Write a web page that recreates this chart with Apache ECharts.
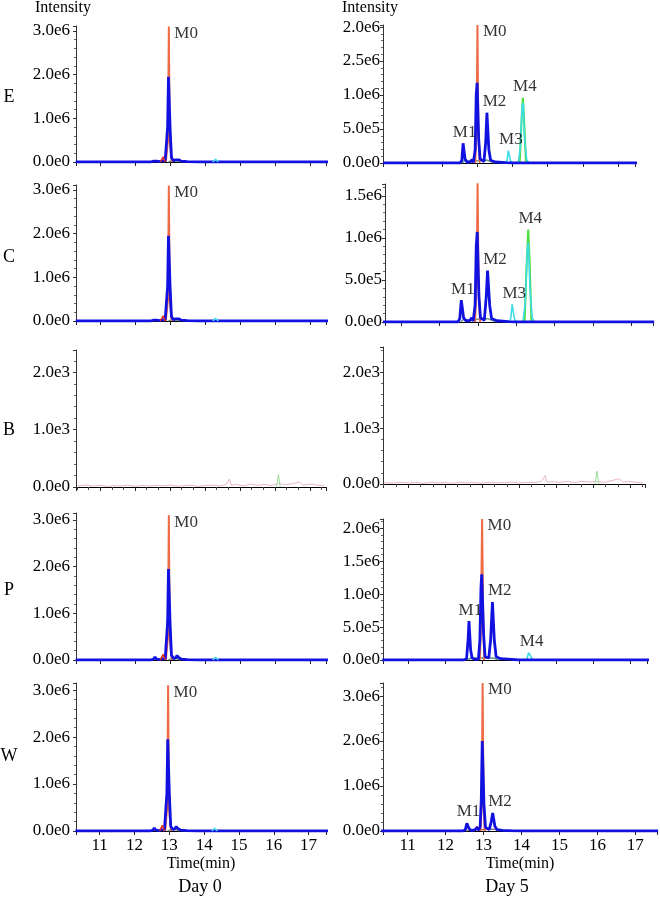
<!DOCTYPE html>
<html><head><meta charset="utf-8">
<script src="https://cdn.jsdelivr.net/npm/echarts@6/dist/echarts.min.js"></script>
<style>html,body{margin:0;padding:0;background:#fff}#c{width:660px;height:898px}</style>
</head><body><div id="c"></div>
<script>
// ---------- tick labels / text ----------
const xTickLabels = ['11','12','13','14','15','16','17'];
const yLabelsD0 = ['0.0e0','1.0e6','2.0e6','3.0e6'];
const yLabelsE5 = ['0.0e0','5.0e5','1.0e6','2.5e6','2.0e6'];
const yLabelsC5 = ['0.0e0','5.0e5','1.0e6','1.5e6'];
const yLabelsB  = ['0.0e0','1.0e3','2.0e3'];
const yLabelsP5 = ['0.0e0','5.0e5','1.0e0','1.5e6','2.0e6'];
const yLabelsW5 = ['0.0e0','1.0e6','2.0e6','3.0e6'];
const rowNames = ['E','C','B','P','W'];
const colNames = ['Day 0','Day 5'];
const yTitle = 'Intensity';
const xTitle = 'Time(min)';

// ---------- Day 0 traces (time min, intensity) ----------
const d0Orange = [[12.88,0],[12.94,0.5e6],[12.965,3.1e6],[12.99,0.5e6],[13.05,0]];
const d0Blue = [[10.3,0],[12.45,0],[12.53,0.02e6],[12.57,0.065e6],[12.61,0.02e6],[12.72,0.01e6],[12.78,0.03e6],[12.82,0.065e6],[12.86,0.02e6],[12.9,0.05e6],[12.93,0.8e6],[12.955,1.95e6],[12.975,1.95e6],[13.0,0.8e6],[13.04,0.1e6],[13.1,0.03e6],[13.16,0.05e6],[13.2,0.095e6],[13.25,0.05e6],[13.32,0.02e6],[13.5,0.01e6],[13.8,0],[17.6,0]];
const d0Red = [[12.72,0],[12.8,0.12e6],[12.86,0]];
const d0Cyan = [[14.22,0],[14.3,0.06e6],[14.38,0]];
const d0Teal = [[12.95,0],[13.05,0.03e6],[13.2,0.025e6],[13.3,0]];
const d0Labels = [['M0',12.965,3.1e6]];

// ---------- Day 5, E ----------
const e5Orange = [[12.93,0],[12.97,0.5e6],[12.995,2.03e6],[13.02,0.5e6],[13.06,0]];
const e5Blue = [[10.3,0],[12.5,0],[12.55,0.04e6],[12.585,0.29e6],[12.61,0.28e6],[12.64,0.06e6],[12.7,0.01e6],[12.8,0.02e6],[12.84,0.05e6],[12.88,0.01e6],[12.93,0.2e6],[12.96,1.0e6],[12.985,1.18e6],[13.005,1.18e6],[13.03,0.35e6],[13.07,0.06e6],[13.18,0.02e6],[13.23,0.3e6],[13.265,0.74e6],[13.29,0.72e6],[13.32,0.2e6],[13.37,0.04e6],[13.5,0.015e6],[13.8,0.005e6],[14.0,0],[17.6,0]];
const e5Cyan = [[13.78,0],[13.84,0.04e6],[13.875,0.18e6],[13.9,0.17e6],[13.94,0.03e6],[14.0,0],[14.16,0],[14.22,0.25e6],[14.27,0.85e6],[14.3,0.88e6],[14.34,0.35e6],[14.4,0.05e6],[14.46,0]];
const e5Green = [[14.2,0],[14.26,0.7e6],[14.29,0.96e6],[14.32,0.7e6],[14.38,0]];
const e5Teal = [[12.55,0],[12.62,0.035e6],[12.75,0.025e6],[12.95,0.03e6],[13.1,0.04e6],[13.25,0.045e6],[13.38,0.02e6],[13.5,0]];
const e5Labels = [['M0',12.995,2.03e6],['M1',12.6,0.29e6],['M2',13.28,0.74e6],['M3',13.89,0.18e6],['M4',14.29,0.96e6]];

// ---------- Day 5, C ----------
const c5Orange = [[12.93,0],[12.97,0.5e6],[12.995,1.65e6],[13.02,0.5e6],[13.06,0]];
const c5Blue = [[10.5,0],[12.48,0],[12.53,0.04e6],[12.57,0.26e6],[12.6,0.25e6],[12.63,0.05e6],[12.7,0.01e6],[12.8,0.02e6],[12.84,0.05e6],[12.88,0.01e6],[12.93,0.2e6],[12.96,0.9e6],[12.985,1.07e6],[13.005,1.07e6],[13.03,0.3e6],[13.07,0.05e6],[13.17,0.02e6],[13.22,0.3e6],[13.255,0.61e6],[13.28,0.6e6],[13.31,0.2e6],[13.36,0.04e6],[13.5,0.015e6],[13.8,0.005e6],[14.0,0],[17.6,0]];
const c5Cyan = [[13.8,0],[13.86,0.04e6],[13.895,0.21e6],[13.92,0.2e6],[13.96,0.03e6],[14.02,0],[14.18,0],[14.24,0.25e6],[14.29,0.85e6],[14.32,0.95e6],[14.36,0.4e6],[14.42,0.05e6],[14.48,0]];
const c5Green = [[14.22,0],[14.28,0.75e6],[14.315,1.1e6],[14.35,0.75e6],[14.4,0]];
const c5Teal = [[12.55,0],[12.62,0.03e6],[12.75,0.025e6],[12.95,0.03e6],[13.1,0.04e6],[13.25,0.04e6],[13.38,0.02e6],[13.5,0]];
const c5Labels = [['M0',12.995,1.65e6],['M1',12.585,0.26e6],['M2',13.265,0.61e6],['M3',13.9,0.21e6],['M4',14.315,1.1e6]];

// ---------- B (blank) noise ----------
const b0Pink = [[10.35,20],[10.6,35],[10.8,15],[11.0,30],[11.2,10],[11.4,25],[11.6,18],[11.8,32],[12.0,12],[12.2,28],[12.4,15],[12.6,30],[12.8,20],[13.0,35],[13.2,15],[13.4,22],[13.6,30],[13.8,12],[14.0,25],[14.2,35],[14.4,18],[14.6,40],[14.7,140],[14.75,30],[14.9,45],[15.1,20],[15.3,50],[15.5,30],[15.7,45],[15.9,25],[16.1,60],[16.3,40],[16.5,55],[16.7,90],[16.8,30],[17.0,50],[17.2,35],[17.4,25]];
const b0Green = [[16.05,0],[16.1,220],[16.15,0]];
const b5Pink = [[10.35,25],[10.6,15],[10.8,30],[11.0,18],[11.2,28],[11.4,12],[11.6,30],[11.8,20],[12.0,26],[12.2,14],[12.4,32],[12.6,18],[12.8,25],[13.0,15],[13.2,30],[13.4,20],[13.6,26],[13.8,35],[14.0,18],[14.2,30],[14.4,25],[14.6,45],[14.7,150],[14.75,35],[14.9,40],[15.1,30],[15.3,45],[15.5,25],[15.7,50],[15.9,35],[16.1,45],[16.3,30],[16.5,60],[16.7,95],[16.8,35],[17.0,40],[17.2,30],[17.35,20]];
const b5Green = [[16.05,0],[16.1,230],[16.15,0]];

// ---------- Day 5, P ----------
const p5Orange = [[12.94,0],[12.97,0.6e6],[13.0,2.14e6],[13.03,0.6e6],[13.06,0]];
const p5Blue = [[10.3,0],[12.5,0],[12.58,0.02e6],[12.62,0.3e6],[12.645,0.59e6],[12.665,0.57e6],[12.69,0.15e6],[12.73,0.03e6],[12.8,0.01e6],[12.85,0.03e6],[12.9,0.01e6],[12.94,0.3e6],[12.97,1.1e6],[12.99,1.3e6],[13.01,1.3e6],[13.04,0.4e6],[13.08,0.05e6],[13.18,0.03e6],[13.23,0.3e6],[13.28,0.88e6],[13.305,0.86e6],[13.33,0.3e6],[13.38,0.05e6],[13.5,0.02e6],[13.8,0.01e6],[14.0,0],[17.6,0]];
const p5Cyan = [[14.2,0],[14.26,0.11e6],[14.31,0.11e6],[14.37,0]];
const p5Teal = [[12.6,0],[12.7,0.03e6],[12.9,0.03e6],[13.1,0.035e6],[13.3,0.03e6],[13.45,0]];
const p5Labels = [['M0',13.0,2.14e6],['M1',12.655,0.59e6],['M2',13.29,0.88e6],['M4',14.285,0.11e6]];

// ---------- Day 5, W ----------
const w5Orange = [[12.92,0],[12.95,0.6e6],[12.975,3.29e6],[13.0,0.6e6],[13.03,0]];
const w5Blue = [[10.3,0],[12.45,0],[12.52,0.03e6],[12.56,0.17e6],[12.59,0.18e6],[12.62,0.05e6],[12.68,0.01e6],[12.78,0.03e6],[12.83,0.08e6],[12.87,0.02e6],[12.91,0.1e6],[12.94,0.7e6],[12.965,2.0e6],[12.985,2.0e6],[13.01,0.6e6],[13.05,0.08e6],[13.15,0.03e6],[13.2,0.2e6],[13.24,0.4e6],[13.265,0.38e6],[13.3,0.1e6],[13.36,0.03e6],[13.5,0.015e6],[13.8,0.005e6],[14.0,0],[17.6,0]];
const w5Red = [[12.76,0],[12.83,0.1e6],[12.88,0]];
const w5Teal = [[12.55,0],[12.65,0.03e6],[12.9,0.03e6],[13.1,0.04e6],[13.3,0.04e6],[13.4,0]];
const w5Labels = [['M0',12.975,3.29e6],['M1',12.575,0.18e6],['M2',13.25,0.4e6]];

// ---------- axis ranges ----------
const yMaxLeft = [3.11e6, 3.11e6, 2.39e3, 3.15e6, 3.15e6];
const yMaxRight = [2.03e6, 1.64e6, 2.45e3, 2.14e6, 3.29e6];
const yStepLeft = [1e6, 1e6, 1e3, 1e6, 1e6];
const yStepRight = [5e5, 5e5, 1e3, 5e5, 1e6];

// ---------- styling / layout ----------
const FONT = '"Liberation Serif","Times New Roman",serif';
const C = {orange:'#EF6B45', blue:'#1212E0', red:'#E0301E', cyan:'#3FDDE6', green:'#4CDC3C', teal:'#6A9484', pink:'#E6B4C8', lgreen:'#9ADE9A'};
const boxesLeft = [[76,26,250,136],[76,185,250,136],[76,350,250,137],[76,513,250,147],[76,683,250,148]];
const boxesRight = [[383,25,252,138],[385,184,268,138],[383,347,262,137],[383,519,264,141],[383,683,277,148]];
const xRangeLeft = [[10.31,17.46],[10.31,17.46],[10.31,17.46],[10.31,17.46],[10.32,17.5]];
const xRangeRight = [[10.3,17.49],[10.58,17.57],[10.32,17.4],[10.32,17.46],[10.35,17.57]];

function tr(data,color,width,z){return {data,color,width,z};}
const panels = [];
const leftYL = [yLabelsD0,yLabelsD0,yLabelsB,yLabelsD0,yLabelsD0];
const rightYL = [yLabelsE5,yLabelsC5,yLabelsB,yLabelsP5,yLabelsW5];
const d0Traces = [tr(d0Teal,C.teal,1.5,1),tr(d0Orange,C.orange,2,2),tr(d0Blue,C.blue,2.8,4),tr(d0Red,C.red,1.5,5),tr(d0Cyan,C.cyan,1.5,5)];
const leftTraces = [d0Traces,d0Traces,[tr(b0Pink,C.pink,1,2),tr(b0Green,C.lgreen,1,3)],d0Traces,d0Traces];
const leftLabels = [d0Labels,d0Labels,[],d0Labels,d0Labels];
const rightTraces = [
  [tr(e5Teal,C.teal,1.5,1),tr(e5Orange,C.orange,2,2),tr(e5Green,C.green,2,3),tr(e5Cyan,C.cyan,1.6,4),tr(e5Blue,C.blue,2.8,5)],
  [tr(c5Teal,C.teal,1.5,1),tr(c5Orange,C.orange,2,2),tr(c5Green,C.green,2,3),tr(c5Cyan,C.cyan,1.6,4),tr(c5Blue,C.blue,2.8,5)],
  [tr(b5Pink,C.pink,1,2),tr(b5Green,C.lgreen,1,3)],
  [tr(p5Teal,C.teal,1.5,1),tr(p5Orange,C.orange,2,2),tr(p5Cyan,C.cyan,1.6,4),tr(p5Blue,C.blue,2.8,5)],
  [tr(w5Teal,'#8C7A74',1.5,1),tr(w5Orange,C.orange,2,2),tr(w5Red,C.red,1.5,3),tr(w5Blue,C.blue,2.8,5)]
];
const rightLabels = [e5Labels,c5Labels,[],p5Labels,w5Labels];
for(let r=0;r<5;r++){
  panels.push({row:r,col:0,box:boxesLeft[r],xr:xRangeLeft[r],ymax:yMaxLeft[r],ystep:yStepLeft[r],yl:leftYL[r],traces:leftTraces[r],labels:leftLabels[r]});
  panels.push({row:r,col:1,box:boxesRight[r],xr:xRangeRight[r],ymax:yMaxRight[r],ystep:yStepRight[r],yl:rightYL[r],traces:rightTraces[r],labels:rightLabels[r]});
}

const labelStyle = {
  M0:{position:'right',distance:4,offset:[1,7]},
  M1:{position:'top',distance:2,offset:[1,0]},
  M2:{position:'top',distance:2,offset:[7,0]},
  M3:{position:'top',distance:2,offset:[2,0]},
  M4:{position:'top',distance:2,offset:[2,0]}
};

const grid=[],xAxis=[],yAxis=[],series=[];
panels.forEach((p,i)=>{
  const bottom = p.row===4, blank = p.row===2;
  grid.push({left:p.box[0],top:p.box[1],width:p.box[2],height:p.box[3]});
  xAxis.push({gridIndex:i,type:'value',min:p.xr[0],max:p.xr[1],splitNumber:7,
    axisLine:{show:true,onZero:false,lineStyle:{color:'#000',width:1}},
    axisTick:{show:true,length:4,lineStyle:{color:'#222'}},
    minorTick:{show:blank,splitNumber:3,length:3,lineStyle:{color:'#444'}},
    splitLine:{show:false},
    axisLabel:{show:bottom,margin:6,fontFamily:FONT,fontSize:17,color:'#000',
      formatter:v=>{const k=Math.round(v); if(Math.abs(v-k)>1e-6) return ''; const s=xTickLabels[k-11]; return s===undefined?'':s;}},
    name:bottom?xTitle:'',nameLocation:'middle',nameGap:25,
    nameTextStyle:{fontFamily:FONT,fontSize:16,color:'#000'}
  });
  yAxis.push({gridIndex:i,type:'value',min:0,max:p.ymax,interval:p.ystep,
    axisLine:{show:true,lineStyle:{color:'#333',width:1}},
    axisTick:{show:true,length:3,lineStyle:{color:'#333'}},
    minorTick:{show:true,splitNumber:5,length:2,lineStyle:{color:'#666'}},
    splitLine:{show:false},
    axisLabel:{margin:p.col===0?6:3,fontFamily:FONT,fontSize:17,color:'#000',
      formatter:v=>{const k=Math.round(v/p.ystep); if(Math.abs(v-k*p.ystep)>1e-6*p.ystep) return ''; return p.yl[k]||'';}}
  });
  p.traces.forEach(t=>{
    series.push({type:'line',xAxisIndex:i,yAxisIndex:i,data:t.data,showSymbol:false,symbol:'none',
      lineStyle:{color:t.color,width:t.width},itemStyle:{color:t.color},z:t.z,silent:true,animation:false});
  });
  if(p.labels.length){
    series.push({type:'scatter',xAxisIndex:i,yAxisIndex:i,symbolSize:1,z:10,animation:false,silent:true,
      itemStyle:{color:'rgba(0,0,0,0)'},
      data:p.labels.map(l=>({name:l[0],value:[l[1],l[2]],
        label:Object.assign({show:true,formatter:'{b}',fontFamily:FONT,fontSize:17,color:'#000'},labelStyle[l[0]])}))
    });
  }
});

const rowY=[97,257,430,590,756];
const graphic=[
  {type:'text',left:35,top:0,style:{text:yTitle,font:'16px '+FONT,fill:'#000'}},
  {type:'text',left:342,top:0,style:{text:yTitle,font:'16px '+FONT,fill:'#000'}},
  {type:'text',x:200,y:887,style:{text:colNames[0],font:'18px '+FONT,fill:'#000',align:'center',verticalAlign:'middle'}},
  {type:'text',x:507,y:887,style:{text:colNames[1],font:'18px '+FONT,fill:'#000',align:'center',verticalAlign:'middle'}}
];
rowNames.forEach((n,r)=>graphic.push({type:'text',x:9,y:rowY[r],style:{text:n,font:'18px '+FONT,fill:'#000',align:'center',verticalAlign:'middle'}}));

const chart = echarts.init(document.getElementById('c'),null,{renderer:'canvas'});
chart.setOption({animation:false,backgroundColor:'#fff',grid,xAxis,yAxis,series,graphic});
</script></body></html>
